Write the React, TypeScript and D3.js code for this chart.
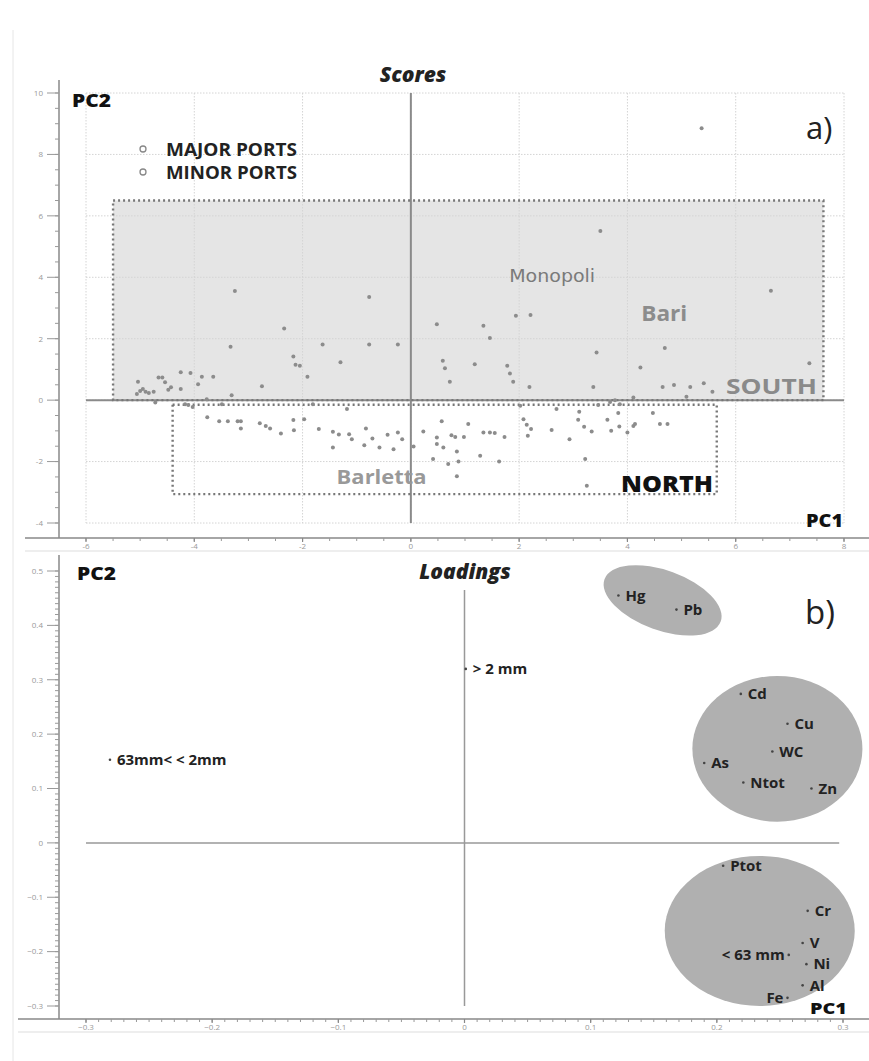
import * as d3 from "d3";

const W = 869;
const H = 1061;

// score plot ticks
const scoreTicksX = [-6, -4, -2, 0, 2, 4, 6, 8];
const scoreTicksY = [-4, -2, 0, 2, 4, 6, 8, 10];
// loading plot ticks
const loadTicksX = [-0.3, -0.2, -0.1, 0, 0.1, 0.2, 0.3];
const loadTicksY = [-0.3, -0.2, -0.1, 0, 0.1, 0.2, 0.3, 0.4, 0.5];

// PC1, PC2 scores of the samples
const scores: [number, number][] = [
  [-3.25, 3.55], [-0.77, 3.36], [0.48, 2.47], [-2.34, 2.33], [-3.33, 1.74], [-1.63, 1.81],
  [-0.77, 1.81], [-0.24, 1.81], [-2.17, 1.42], [-2.13, 1.15], [-2.05, 1.12], [-1.3, 1.23],
  [-1.91, 0.76], [-2.75, 0.45], [-5.04, 0.6], [-4.66, 0.74], [-4.59, 0.74], [-4.54, 0.58],
  [-4.25, 0.91], [-4.07, 0.88], [-3.86, 0.76], [-3.65, 0.76], [-3.93, 0.52], [-4.25, 0.36],
  [-4.43, 0.42], [-4.48, 0.34], [-5.0, 0.3], [-4.95, 0.36], [-4.9, 0.27], [-4.84, 0.23],
  [-5.06, 0.2], [-4.75, 0.27], [-4.72, -0.08], [-3.31, 0.16], [-3.77, 0.03],
  [3.5, 5.51], [5.37, 8.85], [6.65, 3.56], [1.34, 2.42], [1.46, 2.02], [1.94, 2.75],
  [2.21, 2.77], [3.43, 1.55], [4.69, 1.7], [4.24, 1.06], [7.36, 1.2], [0.59, 1.28],
  [0.63, 1.04], [0.72, 0.6], [1.18, 1.17], [1.78, 1.12], [1.83, 0.87], [1.89, 0.6],
  [2.19, 0.43], [3.37, 0.43], [4.65, 0.43], [4.86, 0.49], [5.16, 0.43], [5.41, 0.55],
  [5.57, 0.27], [5.09, 0.11], [4.11, 0.09], [3.77, 0.0], [3.68, -0.06],
  [-4.03, -0.22], [-4.17, -0.13], [-4.11, -0.16], [-3.49, -0.13], [-1.81, -0.13], [-1.18, -0.29],
  [-3.76, -0.56], [-3.54, -0.69], [-3.38, -0.69], [-3.2, -0.69], [-3.14, -0.69], [-3.14, -0.92],
  [-2.79, -0.75], [-2.68, -0.84], [-2.6, -0.92], [-2.4, -1.09], [-2.17, -0.65], [-2.16, -0.98],
  [-1.97, -0.62], [-1.7, -0.94], [-1.44, -1.03], [-1.33, -1.12], [-1.44, -1.54], [-1.14, -1.11],
  [-1.09, -1.27], [-0.83, -0.92], [-0.71, -1.25], [-0.86, -1.47], [-0.58, -1.54], [-0.43, -1.13],
  [-0.24, -1.05], [-0.16, -1.27], [-0.32, -1.6], [0.05, -1.51], [0.23, -1.02], [0.48, -1.22],
  [0.48, -1.43], [0.41, -1.92], [3.46, -0.16], [3.86, -0.13], [2.02, -0.18], [2.69, -0.29],
  [3.11, -0.38], [3.83, -0.42], [4.47, -0.42], [0.57, -0.69], [1.06, -0.78], [2.08, -0.62],
  [2.14, -0.8], [2.22, -0.94], [2.16, -1.16], [0.6, -1.54], [0.75, -1.14], [0.82, -1.2],
  [0.98, -1.2], [1.34, -1.05], [1.46, -1.05], [1.55, -1.07], [1.73, -1.2], [0.85, -1.67],
  [0.69, -2.08], [0.88, -2.0], [1.28, -1.81], [1.63, -2.0], [0.85, -2.48], [2.6, -0.97],
  [2.93, -1.27], [3.09, -0.64], [3.2, -0.87], [3.34, -1.02], [3.63, -0.64], [3.7, -1.0],
  [3.85, -0.86], [4.0, -1.05], [4.11, -0.84], [4.14, -0.78], [4.6, -0.78], [4.74, -0.78],
  [3.22, -1.92], [3.25, -2.79],
];

const legendItems = ["MAJOR PORTS", "MINOR PORTS"];

// dotted regions on the score plot
const regions = [
  { name: "SOUTH", x0: -5.5, x1: 7.62, y0: 0, y1: 6.5, filled: true },
  { name: "NORTH", x0: -4.4, x1: 5.65, y0: -3.06, y1: -0.15, filled: false },
];

const places = [
  { name: "Monopoli", pc1: 2.61, pc2: 3.84, size: 17, len: 86, weight: 400, color: "#7a7a7a", anchor: "middle" },
  { name: "Bari", pc1: 4.68, pc2: 2.58, size: 22, len: 46, weight: 700, color: "#8c8c8c", anchor: "middle" },
  { name: "SOUTH", pc1: 7.5, pc2: 0.2, size: 21, len: 91, weight: 700, color: "#8a8a8a", anchor: "end" },
  { name: "Barletta", pc1: -0.54, pc2: -2.74, size: 20, len: 90, weight: 700, color: "#999", anchor: "middle" },
  { name: "NORTH", pc1: 5.58, pc2: -2.99, size: 22, len: 92, weight: 800, color: "#111", anchor: "end" },
];

// variable loadings
const loadings = [
  { name: "Hg", pc1: 0.122, pc2: 0.455, side: "right" },
  { name: "Pb", pc1: 0.168, pc2: 0.429, side: "right" },
  { name: "> 2 mm", pc1: 0.001, pc2: 0.32, side: "right" },
  { name: "63mm<  < 2mm", pc1: -0.281, pc2: 0.153, side: "right" },
  { name: "Cd", pc1: 0.219, pc2: 0.274, side: "right" },
  { name: "Cu", pc1: 0.256, pc2: 0.219, side: "right" },
  { name: "WC", pc1: 0.244, pc2: 0.168, side: "right" },
  { name: "As", pc1: 0.19, pc2: 0.147, side: "right" },
  { name: "Ntot", pc1: 0.221, pc2: 0.111, side: "right" },
  { name: "Zn", pc1: 0.275, pc2: 0.1, side: "right" },
  { name: "Ptot", pc1: 0.205, pc2: -0.042, side: "right" },
  { name: "Cr", pc1: 0.272, pc2: -0.125, side: "right" },
  { name: "V", pc1: 0.268, pc2: -0.184, side: "right" },
  { name: "< 63 mm", pc1: 0.257, pc2: -0.206, side: "left" },
  { name: "Ni", pc1: 0.271, pc2: -0.223, side: "right" },
  { name: "Al", pc1: 0.268, pc2: -0.262, side: "right" },
  { name: "Fe", pc1: 0.256, pc2: -0.285, side: "left" },
];

// grey clusters on the loading plot (radii in data units, angle in degrees)
const clusters = [
  { cx: 0.157, cy: 0.446, rx: 0.049, ry: 0.055, angle: 20 },
  { cx: 0.248, cy: 0.173, rx: 0.0674, ry: 0.134, angle: 0 },
  { cx: 0.234, cy: -0.162, rx: 0.0753, ry: 0.138, angle: 0 },
];

const FONT = "'Open Sans', Lato, sans-serif";

const xA = d3.scaleLinear().domain([-6, 8]).range([86, 844]);
const yA = d3.scaleLinear().domain([-4, 10]).range([523, 93]);
const xB = d3.scaleLinear().domain([-0.3, 0.3]).range([86, 843]);
const yB = d3.scaleLinear().domain([-0.3, 0.5]).range([1006, 571]);

function YAxis({ scale, ticks, minorStep, x, top, bottom, fmt }) {
  const [lo, hi] = scale.domain();
  const minor = d3.range(lo, hi + minorStep / 2, minorStep);
  return (
    <g>
      <line x1={x} x2={x} y1={top} y2={bottom} stroke="#888" strokeWidth={1.5} />
      {minor.map((v, i) => (
        <line key={"m" + i} x1={x - 4} x2={x} y1={scale(v)} y2={scale(v)} stroke="#999" strokeWidth={1} />
      ))}
      {ticks.map((v) => (
        <g key={v}>
          <line x1={x - 12} x2={x} y1={scale(v)} y2={scale(v)} stroke="#999" strokeWidth={1} />
          <text x={x - 16} y={scale(v)} dy="0.35em" textAnchor="end" fontSize={8} fill="#999" fontFamily={FONT}>
            {fmt(v)}
          </text>
        </g>
      ))}
    </g>
  );
}

function XAxis({ scale, ticks, minorStep, y, left, fmt }) {
  const [lo, hi] = scale.domain();
  const minor = d3.range(lo, hi + minorStep / 2, minorStep);
  return (
    <g>
      <line x1={left} x2={W} y1={y} y2={y} stroke="#888" strokeWidth={1.5} />
      <line x1={left} x2={W} y1={y + 13} y2={y + 13} stroke="#ddd" strokeWidth={1} />
      {minor.map((v, i) => (
        <line key={"m" + i} x1={scale(v)} x2={scale(v)} y1={y} y2={y + 3} stroke="#999" strokeWidth={1} />
      ))}
      {ticks.map((v) => (
        <g key={v}>
          <line x1={scale(v)} x2={scale(v)} y1={y} y2={y + 4} stroke="#888" strokeWidth={1.2} />
          <text x={scale(v)} y={y + 11} textAnchor="middle" fontSize={8} fill="#999" fontFamily={FONT}>
            {fmt(v)}
          </text>
        </g>
      ))}
    </g>
  );
}

function ScoresPanel() {
  const [x0, x1] = xA.domain();
  const [y0, y1] = yA.domain();
  return (
    <g>
      {/* SOUTH fill */}
      {regions.filter((r) => r.filled).map((r) => (
        <rect key={r.name + "f"} x={xA(r.x0)} y={yA(r.y1)} width={xA(r.x1) - xA(r.x0)} height={yA(r.y0) - yA(r.y1)} fill="#e5e5e5" />
      ))}
      {/* grid */}
      {scoreTicksX.map((v) => (
        <line key={"gx" + v} x1={xA(v)} x2={xA(v)} y1={yA(y1)} y2={yA(y0)} stroke="#d4d4d4" strokeDasharray="1.5,1.5" />
      ))}
      {scoreTicksY.map((v) => (
        <line key={"gy" + v} x1={xA(x0)} x2={xA(x1)} y1={yA(v)} y2={yA(v)} stroke="#d4d4d4" strokeDasharray="1.5,1.5" />
      ))}
      {/* zero lines */}
      <line x1={xA(0)} x2={xA(0)} y1={yA(y1)} y2={yA(y0)} stroke="#8a8a8a" strokeWidth={2} />
      <line x1={xA(x0)} x2={xA(x1)} y1={yA(0)} y2={yA(0)} stroke="#8a8a8a" strokeWidth={2} />
      {/* dotted region borders */}
      {regions.map((r) => (
        <rect key={r.name} x={xA(r.x0)} y={yA(r.y1)} width={xA(r.x1) - xA(r.x0)} height={yA(r.y0) - yA(r.y1)}
          fill="none" stroke="#777" strokeWidth={2.4} strokeDasharray="2,3" />
      ))}
      {/* points */}
      {scores.map(([a, b], i) => (
        <circle key={i} cx={xA(a)} cy={yA(b)} r={2} fill="#8c8c8c" />
      ))}
      {places.map((p) => (
        <text key={p.name + "p"} x={xA(p.pc1)} y={yA(p.pc2)} textAnchor={p.anchor} fontSize={p.size}
          textLength={p.len} lengthAdjust="spacingAndGlyphs"
          fontWeight={p.weight} fill={p.color} fontFamily={p.name === "Monopoli" ? "'DejaVu Sans', sans-serif" : FONT}>
          {p.name}
        </text>
      ))}
      {/* legend */}
      {legendItems.map((t, i) => (
        <g key={t}>
          <circle cx={143} cy={149 + i * 23} r={3} fill="none" stroke="#888" strokeWidth={1.3} />
          <text x={166} y={156 + i * 23} fontSize={17} fontWeight={700} fill="#222" fontFamily={FONT}
            textLength={131} lengthAdjust="spacingAndGlyphs">{t}</text>
        </g>
      ))}
      <text x={413} y={82} textAnchor="middle" fontSize={21} fontWeight={800} fontStyle="italic" fill="#222" fontFamily={FONT}>Scores</text>
      <text x={72} y={107} fontSize={18} fontWeight={800} fill="#111" fontFamily={FONT} textLength={39} lengthAdjust="spacingAndGlyphs">PC2</text>
      <text x={843} y={527} textAnchor="end" fontSize={17} fontWeight={800} fill="#111" fontFamily={FONT} textLength={37} lengthAdjust="spacingAndGlyphs">PC1</text>
      <text x={806} y={139} fontSize={31} fill="#222" fontFamily="'Open Sans', sans-serif">a)</text>
      <YAxis scale={yA} ticks={scoreTicksY} minorStep={0.5} x={59} top={80} bottom={538} fmt={(v) => String(v)} />
      <XAxis scale={xA} ticks={scoreTicksX} minorStep={0.5} y={538} left={25} fmt={(v) => String(v)} />
    </g>
  );
}

function LoadingsPanel() {
  const fmt = (v) => (v === 0 ? "0" : d3.format(".1f")(v));
  return (
    <g>
      {clusters.map((c, i) => {
        const px = xB(c.cx);
        const py = yB(c.cy);
        const rx = xB(c.cx + c.rx) - px;
        const ry = yB(c.cy) - yB(c.cy + c.ry);
        return <ellipse key={i} cx={px} cy={py} rx={rx} ry={ry} transform={`rotate(${c.angle},${px},${py})`} fill="#b0b0b0" />;
      })}
      <line x1={xB(-0.3)} x2={xB(0.297)} y1={yB(0)} y2={yB(0)} stroke="#999" strokeWidth={1.5} />
      <line x1={xB(0)} x2={xB(0)} y1={yB(0.465)} y2={yB(-0.3)} stroke="#999" strokeWidth={1.5} />
      {loadings.map((d) => {
        const px = xB(d.pc1);
        const py = yB(d.pc2);
        const right = d.side === "right";
        return (
          <g key={d.name}>
            <circle cx={px} cy={py} r={1.3} fill="#444" />
            <text x={right ? px + 7 : px - 4} y={py} dy="0.35em" textAnchor={right ? "start" : "end"}
              fontSize={15} fontWeight={700} fill="#222" fontFamily={FONT}>
              {d.name}
            </text>
          </g>
        );
      })}
      <text x={465} y={579} textAnchor="middle" fontSize={21} fontWeight={800} fontStyle="italic" fill="#222" fontFamily={FONT}>Loadings</text>
      <text x={77} y={580} fontSize={18} fontWeight={800} fill="#111" fontFamily={FONT} textLength={39} lengthAdjust="spacingAndGlyphs">PC2</text>
      <text x={847} y={1014} textAnchor="end" fontSize={15} fontWeight={800} fill="#111" fontFamily={FONT} textLength={37} lengthAdjust="spacingAndGlyphs">PC1</text>
      <text x={805} y={624} fontSize={33} fill="#222" fontFamily="'Open Sans', sans-serif">b)</text>
      <YAxis scale={yB} ticks={loadTicksY} minorStep={0.01} x={59} top={555} bottom={1019} fmt={fmt} />
      <XAxis scale={xB} ticks={loadTicksX} minorStep={0.01} y={1019} left={18} fmt={fmt} />
    </g>
  );
}

export default function App() {
  return (
    <svg width={W} height={H} style={{ display: "block", position: "absolute", left: 0, top: 0, background: "#fff" }}>
      <line x1={13} x2={13} y1={30} y2={H} stroke="#e6e6e6" strokeWidth={1} />
      <ScoresPanel />
      <LoadingsPanel />
    </svg>
  );
}
